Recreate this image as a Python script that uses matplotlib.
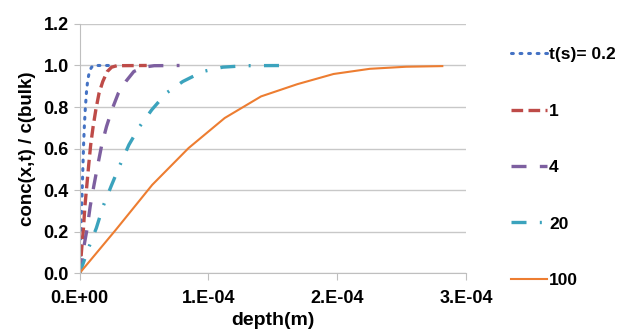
import matplotlib.pyplot as plt
from matplotlib.ticker import FixedLocator

plt.rcParams["font.family"] = ["Liberation Sans", "DejaVu Sans"]
plt.rcParams["font.weight"] = "bold"

# --------------------------------------------------
# Data (depth in 1e-4 m, relative concentration)
# --------------------------------------------------
depth_02 = [0, 0.005, 0.010, 0.015, 0.020, 0.025, 0.030, 0.036, 0.043, 0.052, 0.062, 0.075, 0.09, 0.105, 0.23]
conc_02 = [0, 0.12, 0.22, 0.32, 0.42, 0.52, 0.62, 0.71, 0.79, 0.87, 0.93, 0.97, 0.99, 1.0, 1.0]

depth_1 = [0, 0.016, 0.029, 0.040, 0.055, 0.069, 0.085, 0.104, 0.125, 0.150, 0.179, 0.214, 0.248, 0.289, 0.52]
conc_1 = [0, 0.123, 0.217, 0.321, 0.422, 0.517, 0.618, 0.706, 0.787, 0.867, 0.923, 0.971, 0.992, 0.999, 1.0]

depth_4 = [0, 0.031, 0.058, 0.081, 0.110, 0.139, 0.171, 0.208, 0.250, 0.300, 0.358, 0.420, 0.497, 0.578, 0.775]
conc_4 = [0, 0.123, 0.217, 0.321, 0.422, 0.517, 0.618, 0.706, 0.787, 0.867, 0.923, 0.971, 0.992, 0.999, 1.0]

depth_20 = [0, 0.070, 0.129, 0.181, 0.246, 0.310, 0.382, 0.465, 0.560, 0.672, 0.801, 0.956, 1.111, 1.292, 1.628]
conc_20 = [0, 0.123, 0.217, 0.321, 0.422, 0.517, 0.618, 0.706, 0.787, 0.867, 0.923, 0.971, 0.992, 0.999, 1.0]

depth_100 = [0, 0.281, 0.563, 0.845, 1.126, 1.408, 1.690, 1.971, 2.253, 2.535, 2.816]
conc_100 = [0, 0.209, 0.425, 0.602, 0.747, 0.851, 0.910, 0.959, 0.984, 0.994, 0.997]

x_ticks = [0, 1e-4, 2e-4, 3e-4]
x_tick_labels = ["0.E+00", "1.E-04", "2.E-04", "3.E-04"]
y_ticks = [0.0, 0.2, 0.4, 0.6, 0.8, 1.0, 1.2]

# --------------------------------------------------
# Plot concentration profiles
# --------------------------------------------------
fig = plt.figure(figsize=(6.23, 3.33), dpi=100)
ax = fig.add_axes([0.128, 0.180, 0.620, 0.748])

ax.plot([d * 1e-4 for d in depth_02], conc_02, color="#4472C4", lw=2.2,
        linestyle=(0, (0.6, 2.2)), dash_capstyle="round", label="t(s)= 0.2")
ax.plot([d * 1e-4 for d in depth_1], conc_1, color="#BE4B48", lw=2.4,
        linestyle=(0, (3.5, 1.6)), label="1")
ax.plot([d * 1e-4 for d in depth_4], conc_4, color="#7D5FA0", lw=2.4,
        linestyle=(0, (4.5, 4.0)), label="4")
ax.plot([d * 1e-4 for d in depth_20], conc_20, color="#3BA3BD", lw=2.4,
        linestyle=(0, (4.5, 4.0, 0.6, 4.0)), label="20")
ax.plot([d * 1e-4 for d in depth_100], conc_100, color="#ED7D31", lw=1.5,
        label="100")

ax.set_xlim(0, 3e-4)
ax.set_ylim(0, 1.2)
ax.xaxis.set_major_locator(FixedLocator(x_ticks))
ax.set_xticklabels(x_tick_labels)
ax.set_yticks(y_ticks)
ax.set_yticklabels([f"{v:.1f}" for v in y_ticks])
ax.tick_params(axis="both", labelsize=13)
ax.tick_params(axis="y", length=4, color="#BFBFBF", pad=4)
ax.tick_params(axis="x", length=5, color="#BFBFBF", pad=7)

ax.grid(True, axis="y", color="#C8C8C8", lw=1.0)
ax.set_axisbelow(True)
for side in ["top", "right"]:
    ax.spines[side].set_visible(False)
ax.spines["left"].set_color("#BFBFBF")
ax.spines["bottom"].set_color("#BFBFBF")

ax.set_xlabel("depth(m)", fontsize=14, fontweight="bold", labelpad=4)
ax.set_ylabel("conc(x,t) / c(bulk)", fontsize=13.5, fontweight="bold", labelpad=5)

fig.legend(loc="center left", bbox_to_anchor=(0.795, 0.497), frameon=False,
           fontsize=12.5, labelspacing=2.38, handlelength=2.1, handletextpad=0.1)

fig.savefig("out.png", dpi=100)
